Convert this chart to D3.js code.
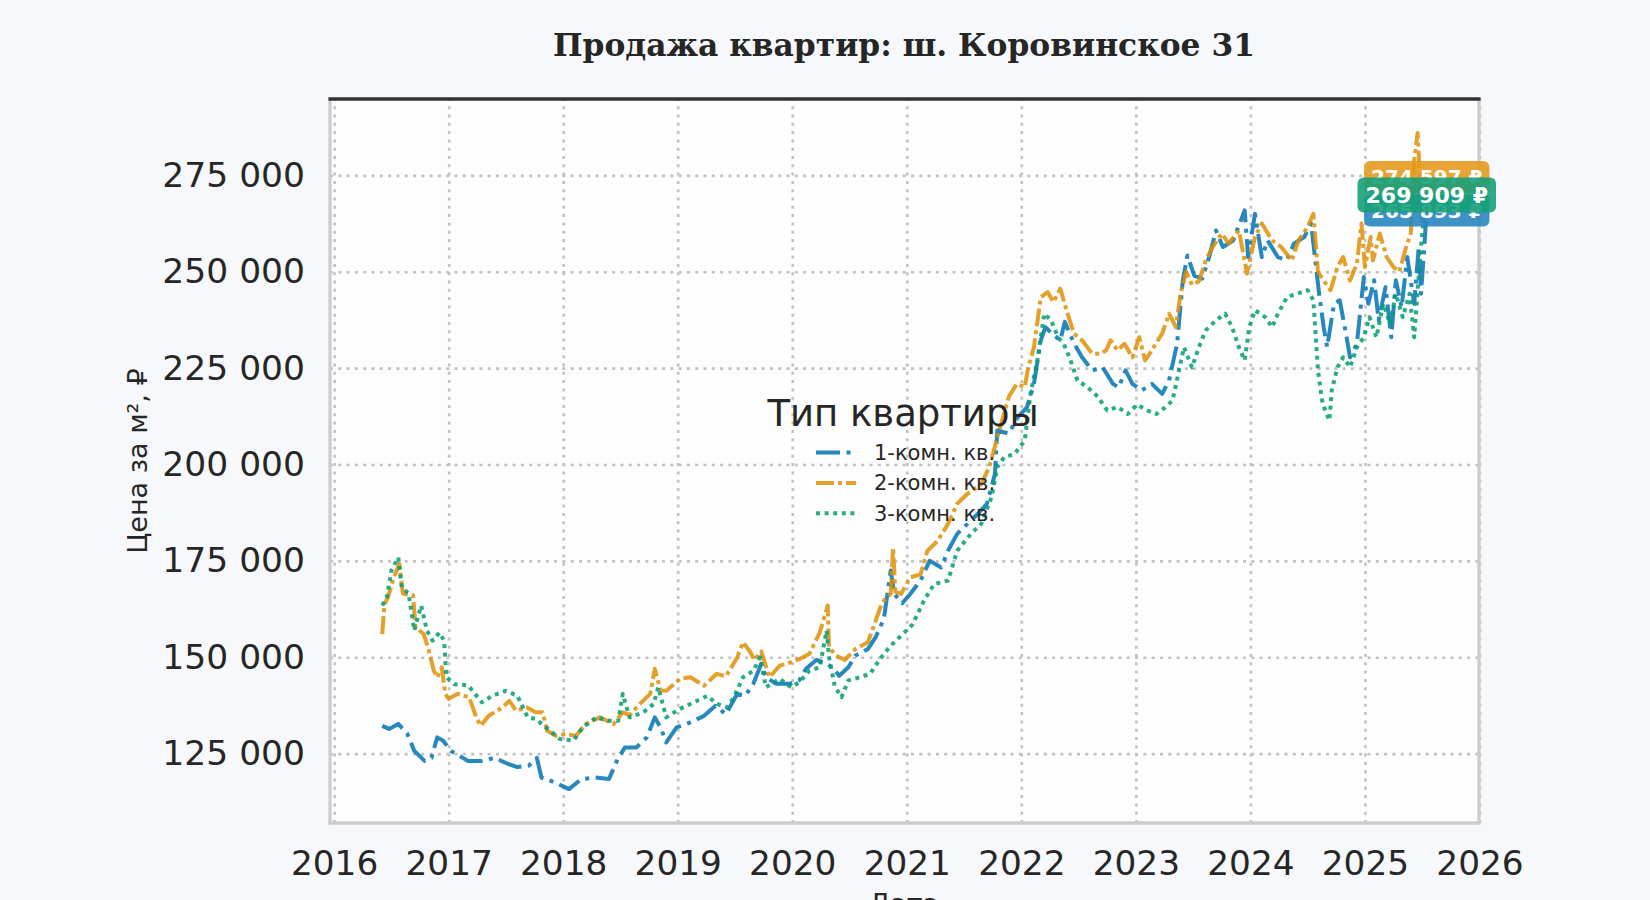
<!DOCTYPE html>
<html>
<head>
<meta charset="utf-8">
<script src="https://cdn.jsdelivr.net/npm/d3@7"></script>
<style>
  body { margin: 0; background: #f6f8fb; }
  svg { display: block; font-family: "DejaVu Sans", sans-serif; }
</style>
</head>
<body>
<svg id="chart" width="1650" height="900"></svg>
<script>
// Данные (дата в долях года, цена за м²)
const dates1 = [2016.42,2016.48,2016.56,2016.64,2016.70,2016.79,2016.85,2016.90,2016.95,2017.02,2017.17,2017.29,2017.40,2017.52,2017.60,2017.70,2017.77,2017.81,2017.93,2018.05,2018.16,2018.28,2018.40,2018.48,2018.54,2018.64,2018.73,2018.80,2018.85,2018.90,2018.99,2019.11,2019.23,2019.33,2019.42,2019.52,2019.59,2019.66,2019.73,2019.77,2019.86,2019.98,2020.06,2020.12,2020.21,2020.30,2020.35,2020.41,2020.49,2020.55,2020.66,2020.73,2020.80,2020.86,2020.89,2020.96,2021.03,2021.12,2021.20,2021.30,2021.36,2021.44,2021.53,2021.62,2021.70,2021.77,2021.79,2021.89,2021.97,2022.05,2022.11,2022.17,2022.21,2022.27,2022.34,2022.38,2022.42,2022.48,2022.53,2022.62,2022.71,2022.80,2022.85,2022.91,2022.97,2023.05,2023.14,2023.23,2023.29,2023.36,2023.41,2023.45,2023.51,2023.58,2023.64,2023.70,2023.76,2023.85,2023.95,2023.98,2024.04,2024.10,2024.15,2024.24,2024.32,2024.38,2024.47,2024.53,2024.60,2024.64,2024.67,2024.73,2024.78,2024.84,2024.87,2024.93,2024.99,2025.03,2025.08,2025.12,2025.18,2025.23,2025.27,2025.32,2025.37,2025.43,2025.47,2025.49,2025.54];
const prices1 = [132200,131400,132700,130100,125700,123100,123900,129200,128400,125700,123100,123100,123900,122300,121500,121900,123900,118800,117500,115800,118400,118800,118400,123900,126600,126600,129200,134400,131800,127900,131800,133100,134800,137400,135200,140500,140000,143100,148300,144800,143100,143100,144000,147000,149300,148300,147400,145200,147400,150400,152100,155300,160000,172500,166400,164000,166400,169900,175000,173300,177600,182000,184600,187200,189800,197600,208800,208000,212300,214900,220900,232200,235600,233900,232200,237000,234000,230400,227800,224400,225200,220900,220000,224400,220900,219200,220900,218300,221800,231300,247700,254200,249000,248200,253800,260700,256400,258100,265900,253800,265000,253800,258100,253800,253000,257300,259000,262500,244300,235600,230400,241700,242600,233000,227800,231300,248600,241700,247800,237400,246000,233000,247800,240800,253800,241700,256400,244300,265893];

const dates2 = [2016.42,2016.44,2016.47,2016.52,2016.57,2016.60,2016.69,2016.71,2016.78,2016.82,2016.87,2016.90,2016.94,2016.97,2017.00,2017.08,2017.18,2017.24,2017.28,2017.35,2017.47,2017.53,2017.59,2017.68,2017.76,2017.82,2017.86,2017.94,2018.02,2018.11,2018.20,2018.32,2018.44,2018.52,2018.58,2018.67,2018.76,2018.80,2018.85,2018.90,2019.02,2019.11,2019.23,2019.34,2019.42,2019.52,2019.57,2019.63,2019.67,2019.73,2019.80,2019.89,2019.99,2020.06,2020.15,2020.24,2020.31,2020.32,2020.38,2020.46,2020.55,2020.66,2020.72,2020.77,2020.80,2020.86,2020.88,2020.90,2020.95,2021.03,2021.12,2021.18,2021.27,2021.36,2021.44,2021.53,2021.65,2021.72,2021.80,2021.89,2021.96,2022.03,2022.06,2022.11,2022.17,2022.23,2022.28,2022.34,2022.40,2022.46,2022.53,2022.62,2022.69,2022.74,2022.78,2022.84,2022.90,2022.97,2023.03,2023.08,2023.12,2023.23,2023.29,2023.35,2023.39,2023.44,2023.49,2023.55,2023.61,2023.67,2023.75,2023.81,2023.90,2023.97,2024.04,2024.10,2024.19,2024.27,2024.36,2024.42,2024.50,2024.55,2024.57,2024.59,2024.64,2024.70,2024.76,2024.81,2024.87,2024.93,2024.97,2025.00,2025.05,2025.07,2025.13,2025.19,2025.25,2025.30,2025.36,2025.40,2025.43,2025.46,2025.50,2025.54];
const prices2 = [156000,163800,165500,170700,174200,166500,166000,157700,156100,152500,146500,144800,147400,140500,139200,140500,139600,134400,132200,134800,137000,138700,136100,137000,135700,135700,130900,129600,130100,129600,132700,134400,132700,135700,135000,137900,140500,147000,141400,141300,144400,144800,142600,145700,145000,150000,153900,151500,149300,151500,144800,147800,148700,149500,150900,156400,163400,152700,150400,149300,152100,153900,158700,163000,164700,166400,178500,167000,166400,170700,171500,177600,180200,184600,189800,192400,194900,199300,208000,217500,220900,220000,225200,230400,243400,244700,242100,245600,239500,233900,232200,228700,228700,229600,232200,229600,231300,227800,233000,227000,228700,234000,239100,235600,244300,250000,246600,247500,252900,256400,259900,257300,260700,249500,259000,262500,258100,256400,252900,258100,261600,265000,257300,250000,247700,245200,251200,253800,247700,252100,262500,251200,259000,252900,259900,253800,251200,250000,256400,259900,278900,286000,263000,274597];

const dates3 = [2016.42,2016.46,2016.50,2016.56,2016.59,2016.65,2016.70,2016.76,2016.81,2016.86,2016.92,2016.96,2016.98,2017.05,2017.17,2017.29,2017.38,2017.50,2017.60,2017.69,2017.76,2017.85,2017.97,2018.09,2018.17,2018.29,2018.40,2018.48,2018.52,2018.58,2018.70,2018.79,2018.83,2018.90,2019.02,2019.14,2019.26,2019.34,2019.43,2019.49,2019.57,2019.66,2019.72,2019.77,2019.89,2019.99,2020.06,2020.15,2020.24,2020.30,2020.32,2020.37,2020.43,2020.49,2020.59,2020.68,2020.76,2020.85,2020.94,2021.05,2021.15,2021.24,2021.36,2021.44,2021.56,2021.65,2021.74,2021.79,2021.85,2021.94,2022.03,2022.08,2022.14,2022.20,2022.26,2022.32,2022.37,2022.42,2022.49,2022.58,2022.67,2022.75,2022.84,2022.93,2023.01,2023.10,2023.18,2023.26,2023.32,2023.37,2023.42,2023.49,2023.55,2023.61,2023.70,2023.78,2023.84,2023.90,2023.95,2023.99,2024.04,2024.13,2024.19,2024.24,2024.32,2024.41,2024.50,2024.55,2024.59,2024.63,2024.69,2024.71,2024.76,2024.81,2024.87,2024.93,2024.99,2025.04,2025.10,2025.16,2025.22,2025.27,2025.33,2025.39,2025.43,2025.47,2025.50,2025.54];
const prices3 = [163400,165500,172500,175900,168100,166500,156900,163400,156900,154300,156400,154300,144800,143000,142700,138300,140000,141300,140000,134400,134000,131800,128800,128400,131800,134400,133500,133500,140500,134400,135700,137900,142200,134400,136600,138300,140000,137900,137000,139600,144800,146500,150000,142200,144400,142200,143500,146500,147400,156900,150200,142600,139600,144000,144800,145700,149300,152700,155300,158500,164700,169000,169900,177600,182000,184600,191500,199300,201900,202700,206200,218300,227000,239100,237400,233000,231300,227800,221800,220000,217500,214000,214900,213100,215500,214000,213100,214900,216600,223500,230400,225200,230400,234800,237400,239100,235600,230400,227000,235600,240000,238200,235600,239100,243400,244300,245200,242600,224400,215800,211400,219200,225200,227800,225200,230400,233000,238200,233000,241700,236500,244300,238200,244300,233000,249100,259900,269909];

const seriesNames = ["1-комн. кв.", "2-комн. кв.", "3-комн. кв."];
const seriesColors = ["#0173b2", "#de8f05", "#029e73"];
const seriesDashes = ["24,6.5,4,6.5", "18,4,4,4", "4,4.6"];
const yearTicks = [2016, 2017, 2018, 2019, 2020, 2021, 2022, 2023, 2024, 2025, 2026];
const priceTicks = [125000, 150000, 175000, 200000, 225000, 250000, 275000];

const series = [
  { name: seriesNames[0], dates: dates1, prices: prices1 },
  { name: seriesNames[1], dates: dates2, prices: prices2 },
  { name: seriesNames[2], dates: dates3, prices: prices3 }
];
series.forEach(function (s, i) {
  s.color = seriesColors[i];
  s.dash = seriesDashes[i];
  s.points = s.dates.map(function (d, k) { return { t: d, v: s.prices[k] }; });
});

const svg = d3.select("#chart");
const plotL = 330, plotR = 1479, plotT = 99, plotB = 823;

const x = d3.scaleLinear().domain([2015.964, 2025.996]).range([plotL, plotR]);
const y = d3.scaleLinear().domain([107000, 294800]).range([plotB, plotT]);

const fmt = function (v) { return d3.format(",")(v).replace(/,/g, " "); };

// фон области графика
svg.append("rect")
  .attr("x", plotL).attr("y", plotT)
  .attr("width", plotR - plotL).attr("height", plotB - plotT)
  .attr("fill", "#fdfdfd");

// сетка
svg.append("g")
  .attr("transform", "translate(0," + plotB + ")")
  .call(d3.axisBottom(x).tickValues(yearTicks).tickSize(-(plotB - plotT)).tickFormat(""))
  .call(function (g) { g.select(".domain").remove(); })
  .selectAll("line")
  .attr("stroke", "#c2c2c2").attr("stroke-width", 2.6).attr("stroke-dasharray", "3,5.3");

svg.append("g")
  .attr("transform", "translate(" + plotL + ",0)")
  .call(d3.axisLeft(y).tickValues(priceTicks).tickSize(-(plotR - plotL)).tickFormat(""))
  .call(function (g) { g.select(".domain").remove(); })
  .selectAll("line")
  .attr("stroke", "#c2c2c2").attr("stroke-width", 2.6).attr("stroke-dasharray", "3,5.3");

// подписи осей
const xAxis = svg.append("g")
  .attr("transform", "translate(0," + plotB + ")")
  .call(d3.axisBottom(x).tickValues(yearTicks).tickSize(0).tickPadding(28).tickFormat(d3.format("d")));
xAxis.select(".domain").remove();
xAxis.selectAll("text").attr("font-size", 34.3).attr("fill", "#262626")
  .attr("font-family", "DejaVu Sans");

const yAxis = svg.append("g")
  .attr("transform", "translate(" + plotL + ",0)")
  .call(d3.axisLeft(y).tickValues(priceTicks).tickSize(0).tickPadding(25).tickFormat(fmt));
yAxis.select(".domain").remove();
yAxis.selectAll("text").attr("font-size", 34.5).attr("fill", "#262626")
  .attr("font-family", "DejaVu Sans");

// рамка
svg.append("line").attr("x1", plotL).attr("x2", plotL).attr("y1", plotT).attr("y2", plotB)
  .attr("stroke", "#cccccc").attr("stroke-width", 3.3);
svg.append("line").attr("x1", plotR).attr("x2", plotR).attr("y1", plotT).attr("y2", plotB)
  .attr("stroke", "#cccccc").attr("stroke-width", 3.3);
svg.append("line").attr("x1", plotL - 1.6).attr("x2", plotR + 1.6).attr("y1", plotB).attr("y2", plotB)
  .attr("stroke", "#cccccc").attr("stroke-width", 3.3);
svg.append("line").attr("x1", plotL - 1.6).attr("x2", plotR + 1.6).attr("y1", plotT).attr("y2", plotT)
  .attr("stroke", "#333333").attr("stroke-width", 3.3);

// линии
const line = d3.line().x(function (d) { return x(d.t); }).y(function (d) { return y(d.v); });

svg.append("g").selectAll("path")
  .data(series)
  .enter()
  .append("path")
  .attr("d", function (d) { return line(d.points); })
  .attr("fill", "none")
  .attr("stroke", function (d) { return d.color; })
  .attr("stroke-opacity", 0.85)
  .attr("stroke-width", 4)
  .attr("stroke-linejoin", "round")
  .attr("stroke-dasharray", function (d) { return d.dash; });

// легенда
const legend = svg.append("g");
legend.append("text")
  .attr("x", 903).attr("y", 426)
  .attr("text-anchor", "middle")
  .attr("font-size", 37)
  .attr("fill", "#262626")
  .text("Тип квартиры");

const items = legend.selectAll("g.item")
  .data(series)
  .enter()
  .append("g")
  .attr("class", "item")
  .attr("transform", function (d, i) { return "translate(0," + (452.5 + i * 30.4) + ")"; });
items.append("line")
  .attr("x1", 816).attr("x2", 856).attr("y1", 0).attr("y2", 0)
  .attr("stroke", function (d) { return d.color; })
  .attr("stroke-opacity", 0.85)
  .attr("stroke-width", 4)
  .attr("stroke-dasharray", function (d) { return d.dash; });
items.append("text")
  .attr("x", 874).attr("y", 7.5)
  .attr("font-size", 21)
  .attr("fill", "#262626")
  .text(function (d) { return d.name; });

// подписи последних значений
const labelOrder = [1, 0, 2];
const labelBoxColors = ["#2a86c0", "#e59a1e", "#16a079"];
labelOrder.forEach(function (i) {
  const s = series[i];
  const last = s.points[s.points.length - 1];
  const big = i === 2;
  const cx = x(last.t);
  const g = svg.append("g");
  const t = g.append("text")
    .attr("x", cx)
    .attr("y", y(last.v))
    .attr("dy", "0.36em")
    .attr("text-anchor", "middle")
    .attr("font-size", big ? 22 : 20)
    .attr("font-weight", "bold")
    .attr("fill", "#ffffff")
    .text(fmt(last.v) + " ₽");
  const w = t.node().getComputedTextLength();
  const h = big ? 35 : 32;
  const padX = big ? 8 : 7;
  g.insert("rect", "text")
    .attr("x", cx - w / 2 - padX)
    .attr("y", y(last.v) - h / 2)
    .attr("width", w + 2 * padX)
    .attr("height", h)
    .attr("rx", 6)
    .attr("fill", labelBoxColors[i])
    .attr("fill-opacity", 0.9);
});

// заголовок и подписи осей
svg.append("text")
  .attr("x", 904).attr("y", 56)
  .attr("text-anchor", "middle")
  .attr("font-family", "DejaVu Serif")
  .attr("font-weight", "bold")
  .attr("font-size", 31.3)
  .attr("fill", "#262626")
  .text("Продажа квартир: ш. Коровинское 31");

svg.append("text")
  .attr("transform", "translate(147,461) rotate(-90)")
  .attr("text-anchor", "middle")
  .attr("font-size", 27)
  .attr("fill", "#262626")
  .text("Цена за м², ₽");

svg.append("text")
  .attr("x", 904).attr("y", 913)
  .attr("text-anchor", "middle")
  .attr("font-size", 27)
  .attr("fill", "#262626")
  .text("Дата");
</script>
</body>
</html>
